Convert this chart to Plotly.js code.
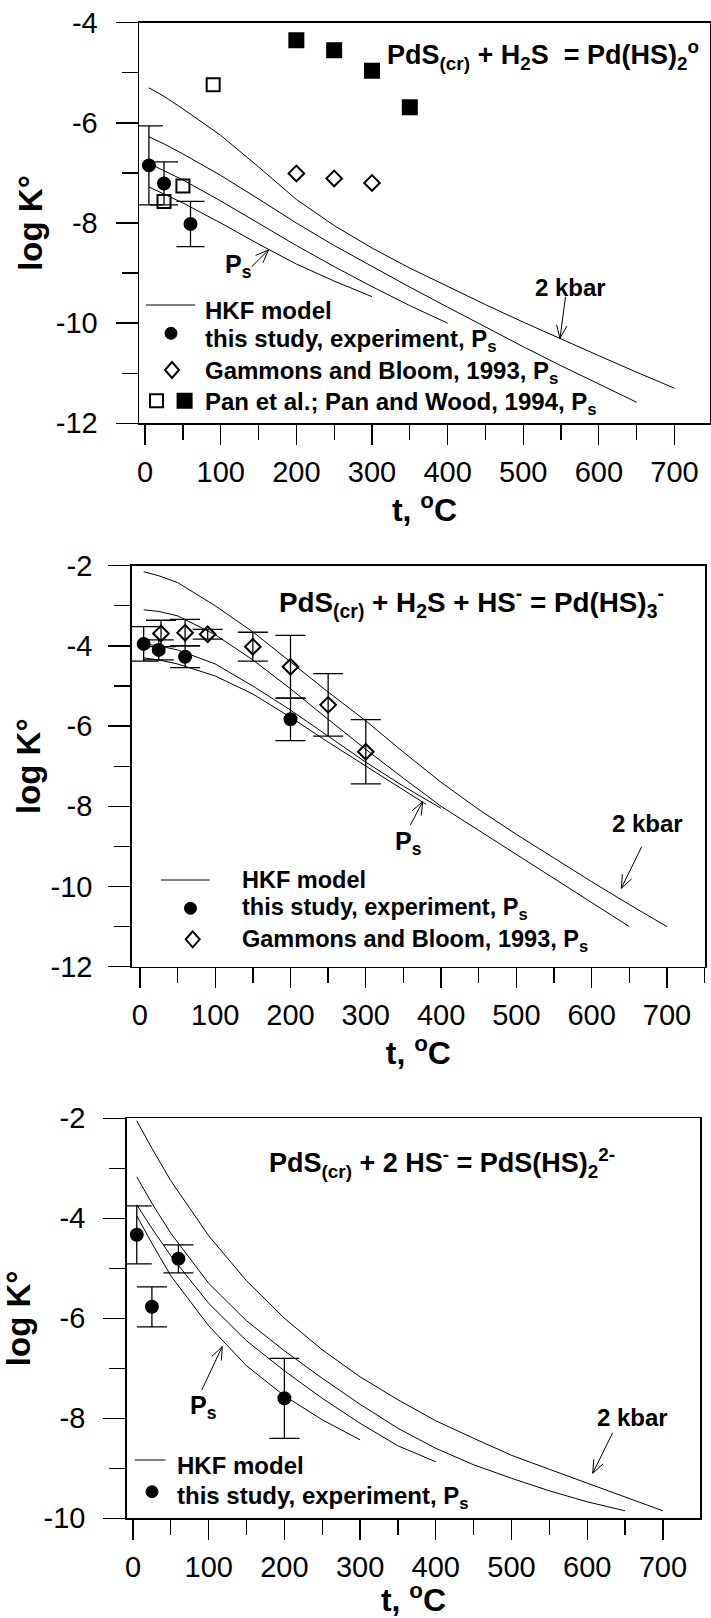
<!DOCTYPE html>
<html><head><meta charset="utf-8">
<script src="https://cdn.plot.ly/plotly-3.0.1.min.js"></script>
<style>html,body{margin:0;padding:0;background:#fff}#chart{width:711px;height:1618px}</style>
</head><body><div id="chart"></div>
<script>
// ---------- tick labels ----------
const xTickVals = [0,100,200,300,400,500,600,700];
const xTickText = ['0','100','200','300','400','500','600','700'];
const yTickVals1 = [-12,-10,-8,-6,-4];
const yTickText1 = ['-12','-10','-8','-6','-4'];
const yTickVals2 = [-12,-10,-8,-6,-4,-2];
const yTickText2 = ['-12','-10','-8','-6','-4','-2'];
const yTickVals3 = [-10,-8,-6,-4,-2];
const yTickText3 = ['-10','-8','-6','-4','-2'];

// ---------- Panel 1: PdS(cr) + H2S = Pd(HS)2 ----------
const p1_t2kbar = [5,25,50,100,150,200,250,300,350,400,450,500,550,600,650,700];
const p1_k2kbar = [-5.30,-5.47,-5.72,-6.25,-6.88,-7.53,-8.05,-8.50,-8.90,-9.27,-9.63,-9.98,-10.32,-10.65,-10.98,-11.30];
const p1_tB = [5,25,50,100,150,200,250,300,350,400,450,500,550,600,650];
const p1_kB = [-6.28,-6.42,-6.62,-7.05,-7.52,-8.00,-8.45,-8.87,-9.28,-9.68,-10.08,-10.47,-10.85,-11.22,-11.58];
const p1_tC = [5,25,50,100,150,200,250,300,350,400];
const p1_kC = [-6.81,-6.95,-7.14,-7.56,-8.00,-8.45,-8.87,-9.27,-9.65,-10.00];
const p1_tPs = [5,25,50,100,150,200,250,300];
const p1_kPs = [-7.28,-7.42,-7.60,-8.00,-8.42,-8.82,-9.16,-9.47];
const p1_expT = [5,25,60];
const p1_expK = [-6.85,-7.21,-8.02];
const p1_expErr = [0.79,0.43,0.45];
const p1_gamT = [200,250,300];
const p1_gamK = [-7.01,-7.11,-7.20];
const p1_panOpenT = [25,50,90];
const p1_panOpenK = [-7.57,-7.26,-5.24];
const p1_panFillT = [200,250,300,350];
const p1_panFillK = [-4.35,-4.55,-4.96,-5.69];

// ---------- Panel 2: PdS(cr) + H2S + HS- = Pd(HS)3- ----------
const p2_t2kbar = [5,25,50,100,150,200,250,300,350,400,450,500,550,600,650,700];
const p2_k2kbar = [-2.15,-2.25,-2.42,-3.00,-3.65,-4.40,-5.15,-5.87,-6.65,-7.40,-8.08,-8.70,-9.30,-9.88,-10.45,-11.00];
const p2_tB = [5,25,50,100,150,200,250,300,350,400,450,500,550,600,650];
const p2_kB = [-3.10,-3.14,-3.25,-3.72,-4.35,-5.07,-5.83,-6.58,-7.30,-8.00,-8.60,-9.20,-9.80,-10.40,-11.00];
const p2_tC = [5,25,50,100,150,200,250,300,350,400];
const p2_kC = [-3.95,-4.00,-4.10,-4.45,-5.00,-5.60,-6.25,-6.90,-7.50,-8.05];
const p2_tPs = [5,25,50,100,150,200,250,300,350,380];
const p2_kPs = [-4.30,-4.35,-4.45,-4.75,-5.20,-5.78,-6.40,-7.00,-7.60,-7.95];
const p2_expT = [5,25,60,200];
const p2_expK = [-3.95,-4.10,-4.27,-5.83];
const p2_expErr = [0.43,0.25,0.27,0.53];
const p2_gamT = [28,60,90,150,200,250,300];
const p2_gamK = [-3.69,-3.67,-3.71,-4.02,-4.52,-5.47,-6.64];
const p2_gamErr = [0.33,0.33,0.12,0.36,0.78,0.78,0.80];

// ---------- Panel 3: PdS(cr) + 2 HS- = PdS(HS)2 2- ----------
const p3_t2kbar = [5,25,50,100,150,200,250,300,350,400,450,500,550,600,650,700];
const p3_k2kbar = [-2.05,-2.60,-3.25,-4.35,-5.25,-6.00,-6.63,-7.17,-7.63,-8.05,-8.40,-8.74,-9.02,-9.30,-9.58,-9.85];
const p3_tB = [5,25,50,100,150,200,250,300,350,400,450,500,550,600,650];
const p3_kB = [-3.17,-3.70,-4.30,-5.30,-6.05,-6.65,-7.20,-7.72,-8.20,-8.60,-8.93,-9.20,-9.45,-9.67,-9.85];
const p3_tC = [5,25,50,100,150,200,250,300,350,400];
const p3_kC = [-3.73,-4.20,-4.75,-5.70,-6.45,-7.05,-7.60,-8.10,-8.55,-8.87];
const p3_tPs = [5,25,50,100,150,200,250,300];
const p3_kPs = [-3.95,-4.50,-5.15,-6.15,-6.95,-7.55,-8.03,-8.43];
const p3_expT = [5,25,60,200];
const p3_expK = [-4.33,-5.77,-4.81,-7.60];
const p3_expErr = [0.58,0.40,0.28,0.80];

// ---------- helpers ----------
const W = 711, H = 1618;
const F = 'Liberation Sans, Arial, Helvetica, sans-serif';
const px = x => x / W;
const py = y => 1 - y / H;

function hkf(t, k, xa, ya) {
  return {x: t, y: k, xaxis: xa, yaxis: ya, mode: 'lines', showlegend: false,
          line: {color: '#000', width: 1}, hoverinfo: 'skip'};
}
function pts(t, k, xa, ya, symbol, size, err, capw) {
  const tr = {x: t, y: k, xaxis: xa, yaxis: ya, mode: 'markers', showlegend: false,
    marker: {symbol: symbol, size: size, color: '#000', line: {color: '#000', width: 2}}};
  if (err) tr.error_y = {type: 'data', array: err, visible: true, color: '#000', thickness: 1.3, width: capw};
  return tr;
}

const data = [
  hkf(p1_t2kbar, p1_k2kbar, 'x', 'y'),
  hkf(p1_tB, p1_kB, 'x', 'y'),
  hkf(p1_tC, p1_kC, 'x', 'y'),
  hkf(p1_tPs, p1_kPs, 'x', 'y'),
  pts(p1_expT, p1_expK, 'x', 'y', 'circle', 12, p1_expErr, 14),
  pts(p1_gamT, p1_gamK, 'x', 'y', 'diamond-open', 12),
  pts(p1_panOpenT, p1_panOpenK, 'x', 'y', 'square-open', 13),
  pts(p1_panFillT, p1_panFillK, 'x', 'y', 'square', 14),

  hkf(p2_t2kbar, p2_k2kbar, 'x2', 'y2'),
  hkf(p2_tB, p2_kB, 'x2', 'y2'),
  hkf(p2_tC, p2_kC, 'x2', 'y2'),
  hkf(p2_tPs, p2_kPs, 'x2', 'y2'),
  pts(p2_gamT, p2_gamK, 'x2', 'y2', 'diamond-open', 12, p2_gamErr, 15),
  pts(p2_expT, p2_expK, 'x2', 'y2', 'circle', 12, p2_expErr, 15),

  hkf(p3_t2kbar, p3_k2kbar, 'x3', 'y3'),
  hkf(p3_tB, p3_kB, 'x3', 'y3'),
  hkf(p3_tC, p3_kC, 'x3', 'y3'),
  hkf(p3_tPs, p3_kPs, 'x3', 'y3'),
  pts(p3_expT, p3_expK, 'x3', 'y3', 'circle', 12, p3_expErr, 15)
];

function xAxis(domain, range, anchor) {
  return {domain: domain, range: range, anchor: anchor, showline: true, mirror: true,
    linecolor: '#000', linewidth: 1.5, showgrid: false, zeroline: false,
    ticks: 'outside', ticklen: 20, tickwidth: 1.3, tickcolor: '#000',
    tickmode: 'array', tickvals: xTickVals, ticktext: xTickText,
    ticklabelstandoff: 2,
    tickfont: {family: F, size: 29, color: '#000'},
    minor: {tickmode: 'linear', tick0: 0, dtick: 50, ticks: 'outside', ticklen: 15,
            tickwidth: 1.3, tickcolor: '#000', showgrid: false},
    title: {text: '<b>t, <sup>o</sup>C</b>', font: {family: F, size: 32, color: '#000'}, standoff: 2}};
}
function yAxis(domain, range, anchor, vals, text, standoff, lblStandoff) {
  return {domain: domain, range: range, anchor: anchor, showline: true, mirror: true,
    linecolor: '#000', linewidth: 1.5, showgrid: false, zeroline: false,
    ticks: 'outside', ticklen: 22, tickwidth: 1.3, tickcolor: '#000',
    tickmode: 'array', tickvals: vals, ticktext: text,
    ticklabelstandoff: lblStandoff,
    tickfont: {family: F, size: 29, color: '#000'},
    minor: {tickmode: 'linear', tick0: 0, dtick: 1, ticks: 'outside', ticklen: 16,
            tickwidth: 1.3, tickcolor: '#000', showgrid: false},
    title: {text: '<b>log K°</b>', font: {family: F, size: 33, color: '#000'}, standoff: standoff}};
}

function ann(text, x, y, size, xanchor) {
  return {text: '<b>' + text + '</b>', x: px(x), y: py(y), xref: 'paper', yref: 'paper',
    showarrow: false, xanchor: xanchor || 'center', yanchor: 'middle',
    font: {family: F, size: size, color: '#000'}};
}
function arrow(x1, y1, x2, y2) {
  const a = Math.atan2(y2 - y1, x2 - x1), L = 14, s = 0.38;
  const h1x = x2 - L * Math.cos(a - s), h1y = y2 - L * Math.sin(a - s);
  const h2x = x2 - L * Math.cos(a + s), h2y = y2 - L * Math.sin(a + s);
  const P = (x, y) => px(x) + ',' + py(y);
  return {type: 'path', xref: 'paper', yref: 'paper', line: {color: '#000', width: 1},
    path: 'M' + P(x1, y1) + 'L' + P(x2, y2) + 'M' + P(h1x, h1y) + 'L' + P(x2, y2) + 'L' + P(h2x, h2y)};
}
function swLine(x1, x2, y) {
  return {type: 'line', xref: 'paper', yref: 'paper', x0: px(x1), x1: px(x2), y0: py(y), y1: py(y),
    line: {color: '#000', width: 1}};
}
function swCircle(cx, cy, r) {
  return {type: 'circle', xref: 'paper', yref: 'paper', x0: px(cx - r), x1: px(cx + r),
    y0: py(cy + r), y1: py(cy - r), fillcolor: '#000', line: {color: '#000', width: 1}};
}
function swSquare(cx, cy, h, filled) {
  return {type: 'rect', xref: 'paper', yref: 'paper', x0: px(cx - h), x1: px(cx + h),
    y0: py(cy + h), y1: py(cy - h), fillcolor: filled ? '#000' : 'rgba(0,0,0,0)',
    line: {color: '#000', width: 2}};
}
function swDiamond(cx, cy, w, h) {
  const P = (x, y) => px(x) + ',' + py(y);
  return {type: 'path', xref: 'paper', yref: 'paper', line: {color: '#000', width: 2},
    path: 'M' + P(cx, cy - h) + 'L' + P(cx + w, cy) + 'L' + P(cx, cy + h) + 'L' + P(cx - w, cy) + 'Z'};
}

const layout = {
  width: W, height: H, margin: {l: 0, r: 0, t: 0, b: 0},
  paper_bgcolor: '#fff', plot_bgcolor: 'rgba(0,0,0,0)', showlegend: false,
  font: {family: F, color: '#000'},
  xaxis: xAxis([139 / W, 710 / W], [-8.1, 747], 'y'),
  yaxis: yAxis([py(423.3), py(22.7)], [-12, -4], 'x', yTickVals1, yTickText1, 3, 12),
  xaxis2: xAxis([131.7 / W, 705 / W], [-10.9, 750.5], 'y2'),
  yaxis2: yAxis([py(966.7), py(565.7)], [-12, -2], 'x2', yTickVals2, yTickText2, 0, 10),
  xaxis3: xAxis([126.7 / W, 700.3 / W], [-8.3, 749.4], 'y3'),
  yaxis3: yAxis([py(1518.3), py(1118.3)], [-10, -2], 'x3', yTickVals3, yTickText3, 10, 12),
  annotations: [
    ann('PdS<sub>(cr)</sub> + H<sub>2</sub>S &nbsp;= Pd(HS)<sub>2</sub><sup>o</sup>', 542.6, 55, 27),
    ann('2 kbar', 570, 287, 24),
    ann('P<sub>s</sub>', 238, 266, 25),
    ann('HKF model', 203, 310, 24, 'left'),
    ann('this study, experiment, P<sub>s</sub>', 203, 341, 24, 'left'),
    ann('Gammons and Bloom, 1993, P<sub>s</sub>', 203, 372, 24, 'left'),
    ann('Pan et al.; Pan and Wood, 1994, P<sub>s</sub>', 203, 403, 24, 'left'),

    ann('PdS<sub>(cr)</sub> + H<sub>2</sub>S + HS<sup>-</sup> = Pd(HS)<sub>3</sub><sup>-</sup>', 471.5, 602, 27.8),
    ann('2 kbar', 647, 823, 24),
    ann('P<sub>s</sub>', 408, 843, 25),
    ann('HKF model', 240, 880, 23.5, 'left'),
    ann('this study, experiment, P<sub>s</sub>', 240, 909, 23.5, 'left'),
    ann('Gammons and Bloom, 1993, P<sub>s</sub>', 240, 940, 23.5, 'left'),

    ann('PdS<sub>(cr)</sub> + 2 HS<sup>-</sup> = PdS(HS)<sub>2</sub><sup>2-</sup>', 442, 1163, 27),
    ann('2 kbar', 632, 1417, 24),
    ann('P<sub>s</sub>', 203, 1407, 25),
    ann('HKF model', 175, 1465, 24, 'left'),
    ann('this study, experiment, P<sub>s</sub>', 175, 1497, 24, 'left')
  ],
  shapes: [
    arrow(565.5, 296.7, 560, 338.3),
    arrow(251.7, 266.7, 268.5, 250),
    swLine(146, 195, 305),
    swCircle(171, 333.3, 6),
    swDiamond(172, 370, 7, 8),
    swSquare(156.5, 400.7, 6.5, false),
    swSquare(184.6, 400.7, 7, true),

    arrow(641.7, 846.7, 621.3, 888.3),
    arrow(410.4, 825, 422.7, 801.7),
    swLine(161, 209.5, 880),
    swCircle(190.5, 908.3, 6),
    swDiamond(192.7, 939.3, 7, 8),

    arrow(612.7, 1432.7, 592.7, 1473.3),
    arrow(201.8, 1390, 222.2, 1346.7),
    swLine(134.7, 165.5, 1460),
    swCircle(152, 1491.7, 6)
  ]
};

Plotly.newPlot('chart', data, layout, {staticPlot: true, displayModeBar: false});
</script></body></html>
